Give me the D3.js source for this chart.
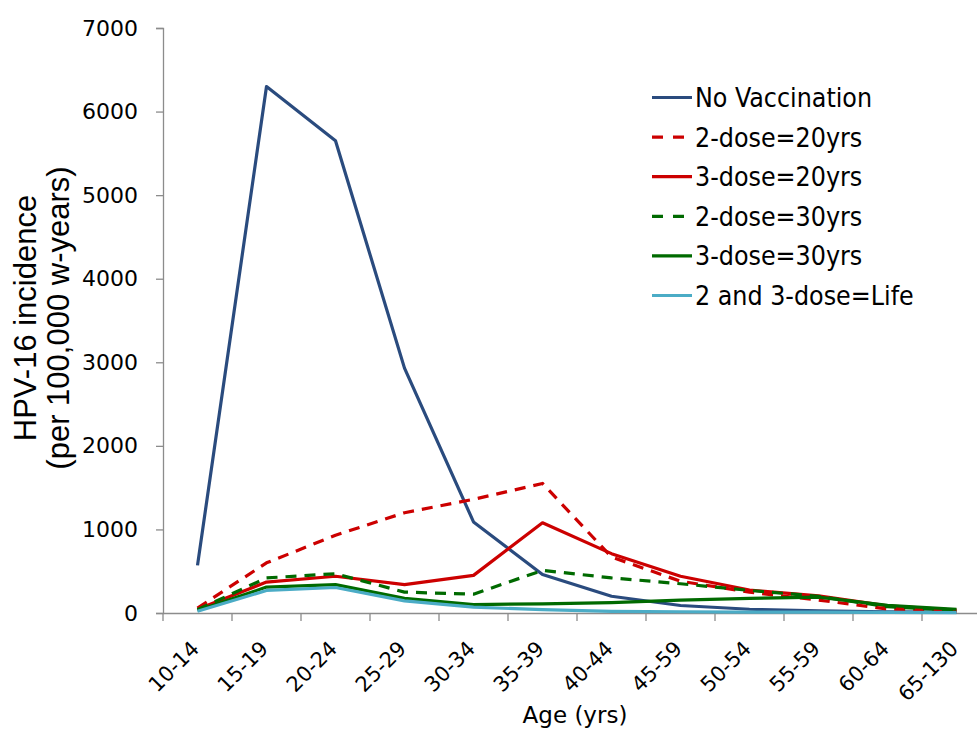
<!DOCTYPE html>
<html>
<head>
<meta charset="utf-8">
<script src="https://cdn.jsdelivr.net/npm/d3@7"></script>
<style>
  html, body { margin: 0; padding: 0; background: #fff; }
  svg { display: block; }
</style>
</head>
<body>
<svg id="chart" width="977" height="731"></svg>
<script>
const categories = ["10-14","15-19","20-24","25-29","30-34","35-39","40-44","45-59","50-54","55-59","60-64","65-130"];
const yTicks = [0,1000,2000,3000,4000,5000,6000,7000];

const noVaccination = [570, 6300, 5650, 2930, 1090, 460, 200, 90, 45, 25, 15, 10];
const dose2_20 = [60, 600, 930, 1200, 1360, 1550, 670, 380, 250, 155, 48, 25];
const dose3_20 = [45, 370, 440, 340, 450, 1080, 710, 440, 275, 205, 85, 35];
const dose2_30 = [40, 420, 470, 250, 225, 510, 420, 350, 270, 200, 75, 30];
const dose3_30 = [30, 310, 340, 175, 100, 110, 125, 155, 175, 190, 92, 45];
const doseLife = [20, 270, 305, 145, 70, 40, 20, 15, 10, 10, 8, 5];

const seriesNames = ["No Vaccination","2-dose=20yrs","3-dose=20yrs","2-dose=30yrs","3-dose=30yrs","2 and 3-dose=Life"];
const seriesValues = [noVaccination, dose2_20, dose3_20, dose2_30, dose3_30, doseLife];
const seriesColors = ["#2A4B7E","#CC0000","#CC0000","#006A00","#006A00","#4BACC6"];
const seriesDashed = [false, true, false, true, false, false];

(function () {
const svg = d3.select("#chart");
const mLeft = 163, mTop = 28, mBottom = 613, bandW = 69;
const x = d3.scaleBand().domain(categories).range([mLeft, mLeft + bandW * categories.length]);
const y = d3.scaleLinear().domain([0, 7000]).range([mBottom, mTop]);

const axisColor = "#8c8c8c";
const sansWide = "DejaVu Sans, sans-serif";
const sansCond = "DejaVu Sans Condensed, DejaVu Sans, sans-serif";

// Y axis
const yAxis = svg.append("g").attr("transform", `translate(${mLeft},0)`)
  .call(d3.axisLeft(y).tickValues(yTicks).tickSize(7).tickPadding(18).tickFormat(d3.format("d")));
yAxis.select(".domain").attr("stroke", axisColor).attr("stroke-width", 1.3);
yAxis.selectAll(".tick line").attr("stroke", axisColor).attr("stroke-width", 1.3);
yAxis.selectAll(".tick text").attr("font-family", sansWide)
  .attr("font-size", 22).attr("fill", "#000");

// X axis
const xAxis = svg.append("g").attr("transform", `translate(0,${mBottom})`)
  .call(d3.axisBottom(x).tickSize(0).tickSizeOuter(0));
xAxis.select(".domain").attr("stroke", axisColor).attr("stroke-width", 1.3);
xAxis.selectAll(".tick text").remove();
const boundaries = categories.map(c => x(c));
xAxis.selectAll("line.bt").data(boundaries).enter().append("line")
  .attr("class", "bt")
  .attr("x1", d => d).attr("x2", d => d).attr("y1", 0).attr("y2", 8)
  .attr("stroke", axisColor).attr("stroke-width", 1.3);
xAxis.selectAll("text.xl").data(categories).enter().append("text")
  .attr("class", "xl")
  .attr("transform", d => `translate(${x(d) + bandW / 2 + 3},${37}) rotate(-45)`)
  .attr("text-anchor", "end")
  .attr("font-family", sansWide)
  .attr("font-size", 21)
  .attr("fill", "#000")
  .text(d => d);

// Axis titles
svg.append("text")
  .attr("x", 575).attr("y", 723)
  .attr("text-anchor", "middle")
  .attr("font-family", sansWide)
  .attr("font-size", 23)
  .attr("fill", "#000")
  .text("Age (yrs)");

const yt = svg.append("text")
  .attr("transform", "translate(36,318) rotate(-90)")
  .attr("text-anchor", "middle")
  .attr("font-family", "Liberation Sans, Arial, sans-serif")
  .attr("font-size", 31)
  .attr("fill", "#000");
yt.append("tspan").attr("x", 0).attr("dy", 0).text("HPV-16 incidence");
yt.append("tspan").attr("x", 0).attr("dy", 33).text("(per 100,000 w-years)");

// Lines
const line = d3.line().x((d, i) => x(categories[i]) + bandW / 2).y(d => y(d));
seriesValues.forEach((vals, k) => {
  svg.append("path")
    .datum(vals)
    .attr("d", line)
    .attr("fill", "none")
    .attr("stroke", seriesColors[k])
    .attr("stroke-width", 3.2)
    .attr("stroke-linejoin", "round")
    .attr("stroke-dasharray", seriesDashed[k] ? "11,8" : null);
});

// Legend
const lg = svg.append("g");
seriesNames.forEach((name, k) => {
  const ly = 97.5 + k * 39.6;
  lg.append("line")
    .attr("x1", 652).attr("x2", 692).attr("y1", ly).attr("y2", ly)
    .attr("stroke", seriesColors[k]).attr("stroke-width", 3.2)
    .attr("stroke-dasharray", seriesDashed[k] ? "11,10" : null);
  lg.append("text")
    .attr("x", 695).attr("y", ly + 9.5)
    .attr("font-family", sansCond)
    .attr("font-stretch", "condensed")
    .attr("font-size", 26.5)
    .attr("fill", "#000")
    .text(name);
});
})();
</script>
</body>
</html>
